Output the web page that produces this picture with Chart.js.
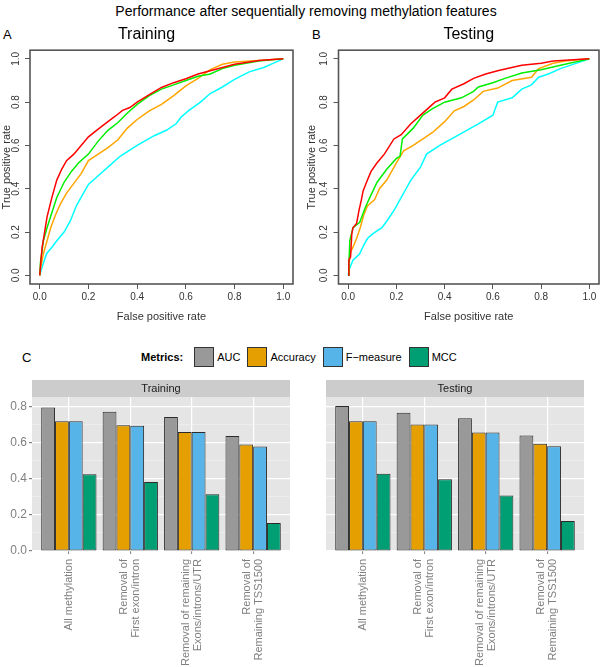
<!DOCTYPE html>
<html>
<head>
<meta charset="utf-8">
<script src="https://cdn.jsdelivr.net/npm/chart.js@4/dist/chart.umd.min.js"></script>
<style>
body{margin:0;width:600px;height:667px;position:relative;background:#fff;overflow:hidden;font-family:"Liberation Sans",Arial,sans-serif;color:#000}
.box{position:absolute}
#mainTitle{position:absolute;left:0;width:612px;top:3px;text-align:center;font-size:14px}
.tag{position:absolute;font-size:13px}
#legend{position:absolute;left:141px;top:347px;height:20px;display:flex;align-items:center;font-size:11px}
#legend b{margin-right:11px}
#legend .key{width:18px;height:18px;border:1px solid #333;margin-right:3px}
#legend .item{display:flex;align-items:center;margin-right:7px}
</style>
</head>
<body>
<div id="mainTitle">Performance after sequentially removing methylation features</div>
<div class="tag" style="left:3px;top:27px">A</div>
<div class="tag" style="left:312px;top:27px">B</div>
<div class="tag" style="left:22px;top:350px">C</div>
<div id="legend"><b>Metrics:</b></div>
<canvas id="rocTrain" class="box" style="left:0;top:22px" width="305" height="306"></canvas>
<canvas id="rocTest" class="box" style="left:305px;top:22px" width="295" height="306"></canvas>
<canvas id="barTrain" class="box" style="left:0;top:380px" width="300" height="287"></canvas>
<canvas id="barTest" class="box" style="left:326px;top:380px" width="274" height="287"></canvas>
<script>
// ROC curves, [false positive rate, true positive rate]
var rocTicks = [0, 0.2, 0.4, 0.6, 0.8, 1];
var curveColors = ["#FF0000", "#00EE00", "#FFA500", "#00FFFF"];

var trainAll = [[0,0],[0.005,0.07],[0.01,0.13],[0.02,0.2],[0.03,0.27],[0.05,0.36],[0.07,0.44],[0.09,0.49],[0.11,0.53],[0.14,0.56],[0.17,0.6],[0.2,0.64],[0.24,0.675],[0.28,0.71],[0.31,0.735],[0.34,0.762],[0.37,0.775],[0.4,0.8],[0.45,0.835],[0.5,0.868],[0.55,0.89],[0.6,0.908],[0.65,0.93],[0.7,0.945],[0.75,0.96],[0.8,0.975],[0.9,0.992],[1,1]];
var trainNoFirst = [[0,0],[0.003,0.06],[0.015,0.16],[0.03,0.22],[0.05,0.29],[0.07,0.36],[0.1,0.43],[0.13,0.48],[0.16,0.52],[0.2,0.56],[0.24,0.62],[0.28,0.67],[0.32,0.705],[0.36,0.75],[0.4,0.79],[0.45,0.83],[0.5,0.86],[0.55,0.88],[0.6,0.9],[0.65,0.92],[0.7,0.93],[0.75,0.955],[0.8,0.97],[0.9,0.99],[1,1]];
var trainNoExons = [[0,0],[0.003,0.03],[0.015,0.1],[0.03,0.16],[0.045,0.22],[0.065,0.28],[0.085,0.33],[0.11,0.38],[0.13,0.41],[0.17,0.47],[0.2,0.53],[0.24,0.56],[0.28,0.59],[0.32,0.625],[0.36,0.68],[0.4,0.72],[0.45,0.76],[0.5,0.79],[0.55,0.83],[0.6,0.875],[0.65,0.91],[0.7,0.95],[0.75,0.975],[0.8,0.985],[0.9,0.993],[1,1]];
var trainNoTss = [[0,0],[0.01,0.04],[0.028,0.1],[0.05,0.13],[0.07,0.16],[0.1,0.2],[0.125,0.25],[0.15,0.32],[0.175,0.37],[0.2,0.42],[0.24,0.46],[0.28,0.5],[0.33,0.55],[0.4,0.6],[0.47,0.645],[0.52,0.67],[0.56,0.7],[0.58,0.73],[0.61,0.76],[0.66,0.8],[0.7,0.84],[0.75,0.87],[0.8,0.905],[0.86,0.94],[0.92,0.96],[0.96,0.98],[1,1]];

var testAll = [[0,0],[0.003,0.07],[0.01,0.085],[0.015,0.19],[0.02,0.22],[0.035,0.24],[0.045,0.3],[0.055,0.35],[0.062,0.39],[0.08,0.44],[0.095,0.48],[0.12,0.52],[0.15,0.56],[0.19,0.63],[0.22,0.65],[0.26,0.7],[0.3,0.74],[0.33,0.77],[0.36,0.8],[0.4,0.82],[0.43,0.86],[0.48,0.885],[0.52,0.91],[0.57,0.93],[0.62,0.945],[0.66,0.955],[0.72,0.97],[0.8,0.98],[0.85,0.99],[1,1]];
var testNoFirst = [[0,0],[0.003,0.05],[0.007,0.16],[0.02,0.22],[0.048,0.245],[0.07,0.31],[0.09,0.36],[0.12,0.43],[0.16,0.49],[0.2,0.54],[0.215,0.55],[0.225,0.63],[0.27,0.68],[0.31,0.74],[0.35,0.77],[0.4,0.8],[0.47,0.82],[0.52,0.85],[0.54,0.87],[0.6,0.89],[0.65,0.91],[0.72,0.935],[0.8,0.95],[0.88,0.97],[1,1]];
var testNoExons = [[0,0],[0.003,0.04],[0.007,0.1],[0.02,0.13],[0.035,0.17],[0.05,0.22],[0.065,0.28],[0.08,0.32],[0.11,0.35],[0.13,0.4],[0.16,0.44],[0.2,0.52],[0.23,0.575],[0.27,0.6],[0.31,0.63],[0.35,0.66],[0.4,0.71],[0.44,0.76],[0.48,0.78],[0.52,0.81],[0.56,0.85],[0.62,0.865],[0.68,0.9],[0.76,0.915],[0.79,0.955],[0.85,0.98],[0.9,0.99],[1,1]];
var testNoTss = [[0,0],[0.005,0.03],[0.02,0.07],[0.048,0.1],[0.065,0.14],[0.08,0.17],[0.1,0.19],[0.14,0.22],[0.16,0.25],[0.19,0.3],[0.215,0.35],[0.24,0.4],[0.26,0.44],[0.3,0.5],[0.325,0.56],[0.38,0.6],[0.46,0.65],[0.54,0.7],[0.6,0.74],[0.62,0.8],[0.68,0.82],[0.72,0.86],[0.76,0.88],[0.79,0.915],[0.83,0.93],[0.88,0.955],[0.92,0.97],[0.96,0.985],[1,1]];

// bar panels
var featureSets = [["All methylation"], ["Removal of", "First exon/intron"], ["Removal of remaining", "Exons/introns/UTR"], ["Removal of", "Remaining TSS1500"]];
var metrics = ["AUC", "Accuracy", "F\u2212measure", "MCC"];
var metricColors = ["#999999", "#E69F00", "#56B4E9", "#009E73"];
var barTicks = [0, 0.1, 0.2, 0.3, 0.4, 0.5, 0.6, 0.7, 0.8];

var trainAuc = [0.794, 0.770, 0.741, 0.637];
var trainAcc = [0.718, 0.696, 0.659, 0.589];
var trainF = [0.718, 0.693, 0.659, 0.578];
var trainMcc = [0.425, 0.382, 0.314, 0.155];

var testAuc = [0.802, 0.765, 0.734, 0.639];
var testAcc = [0.718, 0.700, 0.656, 0.593];
var testF = [0.718, 0.700, 0.656, 0.580];
var testMcc = [0.427, 0.397, 0.307, 0.166];

var font = "'Liberation Sans', Arial, sans-serif";
var labelSize = 11, labelLine = 1.1;

// legend
var legend = document.getElementById("legend");
for (var i = 0; i < metrics.length; i++) {
  var it = document.createElement("div");
  it.className = "item";
  it.innerHTML = '<div class="key" style="background:' + metricColors[i] + '"></div><span>' + metrics[i] + '</span>';
  legend.appendChild(it);
}

var boxPlugin = {
  id: "box",
  afterDraw: (c) => {
    var a = c.chartArea, ctx = c.ctx;
    ctx.save();
    ctx.strokeStyle = "#555";
    ctx.lineWidth = 1.6;
    ctx.strokeRect(a.left, a.top, a.right - a.left, a.bottom - a.top);
    ctx.restore();
  }
};

var panelPlugin = {
  id: "panel",
  beforeDraw: (c) => {
    var a = c.chartArea, ctx = c.ctx, t = c.titleBlock;
    ctx.save();
    ctx.fillStyle = "#E5E5E5";
    ctx.fillRect(a.left, a.top, a.right - a.left, a.bottom - a.top);
    ctx.fillStyle = "#CCCCCC";
    ctx.fillRect(a.left, t.top, a.right - a.left, t.bottom - t.top);
    ctx.restore();
  }
};

var rocChart = (id, title, curves, yWidth, padRight, fullTitle) => {
  new Chart(document.getElementById(id), {
    type: "line",
    data: {
      datasets: curves.map((d, k) => ({
        data: d,
        borderColor: curveColors[k],
        borderWidth: 1.5,
        pointRadius: 0,
        tension: 0,
        fill: false
      }))
    },
    options: {
      responsive: false,
      animation: false,
      layout: {padding: {left: 0, right: padRight, top: 0, bottom: 0}},
      plugins: {
        legend: {display: false},
        tooltip: {enabled: false},
        title: {display: true, text: title, fullSize: fullTitle, color: "#000",
          font: {family: font, size: 16, weight: "normal"}, padding: {top: 3, bottom: 6}}
      },
      scales: {
        x: {
          type: "linear", min: -0.04, max: 1.04,
          afterBuildTicks: (s) => { s.ticks = rocTicks.map(v => ({value: v})); },
          afterFit: (s) => { s.height = 44; },
          grid: {drawOnChartArea: false, tickLength: 5, color: "#555"},
          border: {display: false},
          ticks: {callback: (v) => v.toFixed(1), color: "#333", padding: 2, maxRotation: 0,
            font: {family: font, size: 10}},
          title: {display: true, text: "False positive rate", color: "#333",
            font: {family: font, size: 11}, padding: {top: 2, bottom: 4}}
        },
        y: {
          min: -0.04, max: 1.04,
          afterBuildTicks: (s) => { s.ticks = rocTicks.map(v => ({value: v})); },
          afterFit: (s) => { s.width = yWidth; },
          grid: {drawOnChartArea: false, tickLength: 5, color: "#555"},
          border: {display: false},
          ticks: {callback: (v) => v.toFixed(1), color: "#333", padding: 2, minRotation: 90, maxRotation: 90,
            crossAlign: "center", font: {family: font, size: 10}},
          title: {display: true, text: "True positive rate", color: "#333",
            font: {family: font, size: 11}, padding: {top: 0, bottom: 0}}
        }
      }
    },
    plugins: [boxPlugin]
  });
};

rocChart("rocTrain", "Training", [trainAll, trainNoFirst, trainNoExons, trainNoTss], 30, 12, true);
rocChart("rocTest", "Testing", [testAll, testNoFirst, testNoExons, testNoTss], 33.5, 1, false);

var isMajor = (v) => Math.round(v * 10) % 2 === 0;

// label axis: multi-line labels are centred on the group instead of hanging to the right
var labelTicks = (s) => {
  var unit = (s.width || 258) / 4.2;
  s.ticks = featureSets.map((l, i) => ({value: i - (l.length - 1) * labelSize * labelLine / 2 / unit, idx: i}));
};

var barChart = (id, title, series, showY, yWidth, padRight) => {
  new Chart(document.getElementById(id), {
    type: "bar",
    data: {
      datasets: series.map((vals, k) => ({
        label: metrics[k],
        data: vals.map((v, i) => ({x: i, y: v})),
        backgroundColor: metricColors[k],
        borderColor: "#2B2B2B",
        borderWidth: 1,
        borderSkipped: false
      }))
    },
    options: {
      responsive: false,
      animation: false,
      categoryPercentage: 0.9,
      barPercentage: 1,
      layout: {padding: {left: 0, right: padRight, top: 0, bottom: 0}},
      plugins: {
        legend: {display: false},
        tooltip: {enabled: false},
        title: {display: true, text: title, fullSize: false, color: "#1A1A1A",
          font: {family: font, size: 11, weight: "normal"}, padding: {top: 2, bottom: 2}}
      },
      scales: {
        x: {
          type: "linear", min: -0.6, max: 3.6, offset: false, weight: 0,
          afterBuildTicks: (s) => { s.ticks = featureSets.map((l, i) => ({value: i})); },
          afterFit: (s) => { s.height = 3; },
          grid: {offset: false, color: "#FFFFFF", lineWidth: 1.2, tickLength: 3, tickColor: "#7F7F7F", tickWidth: 1},
          border: {display: false},
          ticks: {display: false}
        },
        xl: {
          type: "linear", position: "bottom", min: -0.6, max: 3.6, offset: false, weight: 1,
          afterBuildTicks: labelTicks,
          afterFit: (s) => { s.height = 113; },
          grid: {display: false, drawTicks: false},
          border: {display: false},
          ticks: {autoSkip: false, callback: (v, i) => featureSets[i], color: "#7F7F7F", padding: 5,
            minRotation: 90, maxRotation: 90, font: {family: font, size: labelSize, lineHeight: labelLine}}
        },
        y: {
          min: 0, max: 0.851,
          afterBuildTicks: (s) => { s.ticks = barTicks.map(v => ({value: v})); },
          afterFit: (s) => { s.width = yWidth; },
          grid: {
            color: (c) => (c.tick && isMajor(c.tick.value)) ? "#FFFFFF" : "#F2F2F2",
            lineWidth: (c) => (c.tick && isMajor(c.tick.value)) ? 1.2 : 0.6,
            tickColor: (c) => (c.tick && isMajor(c.tick.value)) ? "#7F7F7F" : "rgba(0,0,0,0)",
            tickLength: showY ? 3 : 0, drawTicks: showY
          },
          border: {display: false},
          ticks: {display: showY, callback: (v) => isMajor(v) ? v.toFixed(1) : "", color: "#7F7F7F",
            padding: 2, font: {family: font, size: 12}}
        }
      }
    },
    plugins: [panelPlugin]
  });
};

barChart("barTrain", "Training", [trainAuc, trainAcc, trainF, trainMcc], true, 32, 10);
barChart("barTest", "Testing", [testAuc, testAcc, testF, testMcc], false, 0, 16);
</script>
</body>
</html>
